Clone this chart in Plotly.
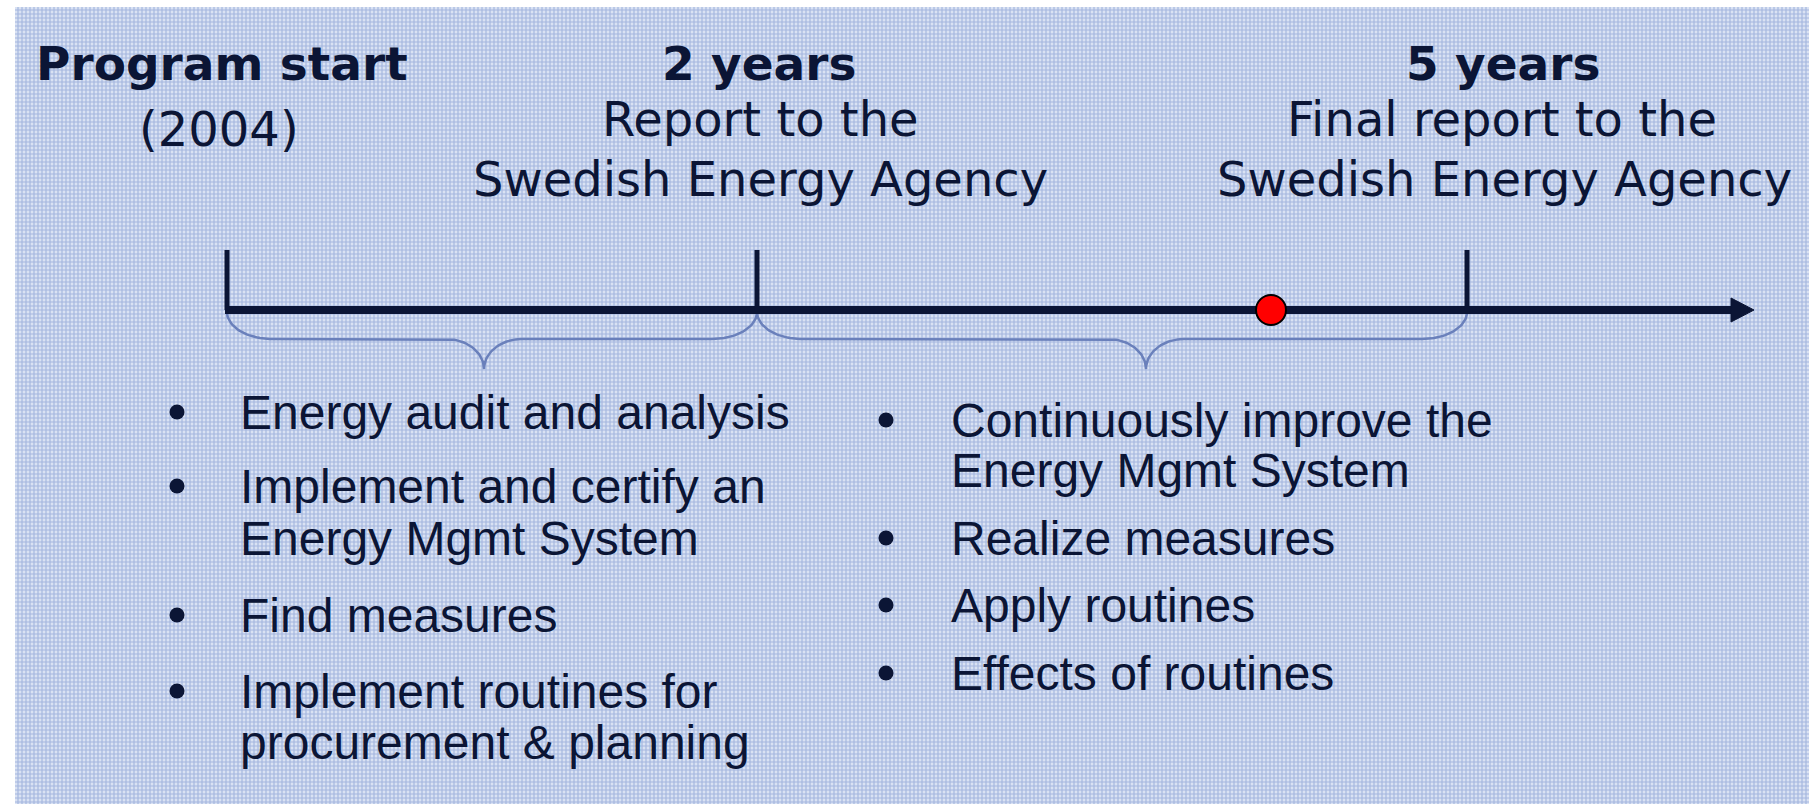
import numpy as np
import plotly.graph_objects as go

# ---------------- data ----------------
milestone_titles = ["Program start", "2 years", "5 years"]
milestone_subtitles = [["(2004)"],
                       ["Report to the", "Swedish Energy Agency"],
                       ["Final report to the", "Swedish Energy Agency"]]
milestone_pos = [227, 757, 1467]          # timeline coordinate of each milestone
current_pos = [1271]                      # "you are here" marker
phase_tips = [484, 1146]                  # brace tip of each phase

phase1_items = [["Energy audit and analysis"],
                ["Implement and certify an", "Energy Mgmt System"],
                ["Find measures"],
                ["Implement routines for", "procurement & planning"]]
phase2_items = [["Continuously improve the", "Energy Mgmt System"],
                ["Realize measures"],
                ["Apply routines"],
                ["Effects of routines"]]

# ---------------- layout constants ----------------
W, H = 1809, 804
NAVY = "#0b1535"
BRACE = "#6a80bb"
LINE_Y = 310
TICK_TOP = 250
TITLE_FONT = "DejaVu Sans, Verdana, sans-serif"
BODY_FONT = "Liberation Sans, Arial, sans-serif"

fig = go.Figure()

# background panel with fine grid texture
fig.add_trace(go.Scatter(
    x=[15, W, W, 15, 15], y=[7, 7, H, H, 7], mode="lines", fill="toself",
    line=dict(width=0), fillcolor="#c3d0eb",
    fillpattern=dict(shape="+", fgcolor="#6d8ac9", bgcolor="#dae2f3",
                     size=4, solidity=0.5),
    hoverinfo="skip", showlegend=False))

# braces under the timeline
def brace(a, b, t, y0=LINE_Y + 2, y1=339, y2=369, rx=45, rx2=38):
    th = np.linspace(0, np.pi / 2, 30)
    xs, ys = [], []
    xs += list((a + rx) - rx * np.cos(th)); ys += list(y0 + (y1 - y0) * np.sin(th))
    xs += list((t - rx2) + rx2 * np.sin(th)); ys += list(y2 - (y2 - y1) * np.cos(th))
    xs += list((t + rx2) - rx2 * np.cos(th)); ys += list(y1 + (y2 - y1) * (1 - np.sin(th)))
    xs += list((b - rx) + rx * np.sin(th)); ys += list(y1 - (y1 - y0) * (1 - np.cos(th)))
    return xs, ys

for i, tip in enumerate(phase_tips):
    bx, by = brace(milestone_pos[i], milestone_pos[i + 1], tip)
    fig.add_trace(go.Scatter(x=bx, y=by, mode="lines",
                             line=dict(color=BRACE, width=2.5),
                             hoverinfo="skip", showlegend=False))

# main timeline
arrow_end = 1754
fig.add_trace(go.Scatter(x=[milestone_pos[0] - 2, arrow_end - 22], y=[LINE_Y, LINE_Y],
                         mode="lines", line=dict(color=NAVY, width=8),
                         hoverinfo="skip", showlegend=False))
fig.add_trace(go.Scatter(x=[arrow_end - 23, arrow_end, arrow_end - 23, arrow_end - 23],
                         y=[LINE_Y - 12, LINE_Y, LINE_Y + 12, LINE_Y - 12],
                         mode="lines", fill="toself", fillcolor=NAVY,
                         line=dict(color=NAVY, width=1),
                         hoverinfo="skip", showlegend=False))

# milestone ticks
for p in milestone_pos:
    fig.add_trace(go.Scatter(x=[p, p], y=[TICK_TOP, LINE_Y], mode="lines",
                             line=dict(color=NAVY, width=5),
                             hoverinfo="skip", showlegend=False))

# current position marker
fig.add_trace(go.Scatter(x=current_pos, y=[LINE_Y] * len(current_pos), mode="markers",
                         marker=dict(size=30, color="#ff0000",
                                     line=dict(color="#000000", width=2)),
                         hoverinfo="skip", showlegend=False))

# milestone labels
title_x = [222, 759, 1503]
title_y = [63, 63, 63]
sub_y = [[129], [119, 179], [119, 179]]
sub_x = [[219], [760, 760], [1502, 1504]]
for i, t in enumerate(milestone_titles):
    fig.add_annotation(x=title_x[i], y=title_y[i], text="<b>" + t + "</b>",
                       showarrow=False, xanchor="center", yanchor="middle",
                       font=dict(family=TITLE_FONT, size=47, color=NAVY))
    for j, s in enumerate(milestone_subtitles[i]):
        fig.add_annotation(x=sub_x[i][j], y=sub_y[i][j], text=s,
                           showarrow=False, xanchor="center", yanchor="middle",
                           font=dict(family=TITLE_FONT, size=48, color=NAVY))

# bullet lists
def bullets(items, bullet_x, text_x, ys):
    fig.add_trace(go.Scatter(x=[bullet_x] * len(items), y=[yl[0] for yl in ys],
                             mode="markers",
                             marker=dict(size=15, color=NAVY, line=dict(width=0)),
                             hoverinfo="skip", showlegend=False))
    for item, yl in zip(items, ys):
        for line, y in zip(item, yl):
            fig.add_annotation(x=text_x, y=y, text=line, showarrow=False,
                               xanchor="left", yanchor="middle",
                               font=dict(family=BODY_FONT, size=48, color=NAVY))

bullets(phase1_items, 177, 238, [[412], [486, 538], [615], [691, 742]])
bullets(phase2_items, 886, 949, [[420, 470], [538], [605], [673]])

fig.update_layout(
    width=W, height=H, margin=dict(l=0, r=0, t=0, b=0),
    paper_bgcolor="white", plot_bgcolor="white", showlegend=False,
    xaxis=dict(range=[0, W], visible=False, fixedrange=True),
    yaxis=dict(range=[H, 0], visible=False, fixedrange=True),
)

fig.write_html("out.html", config={"displayModeBar": False},
               post_script="document.body.style.margin='0';"
                           "document.body.style.overflow='hidden';")
